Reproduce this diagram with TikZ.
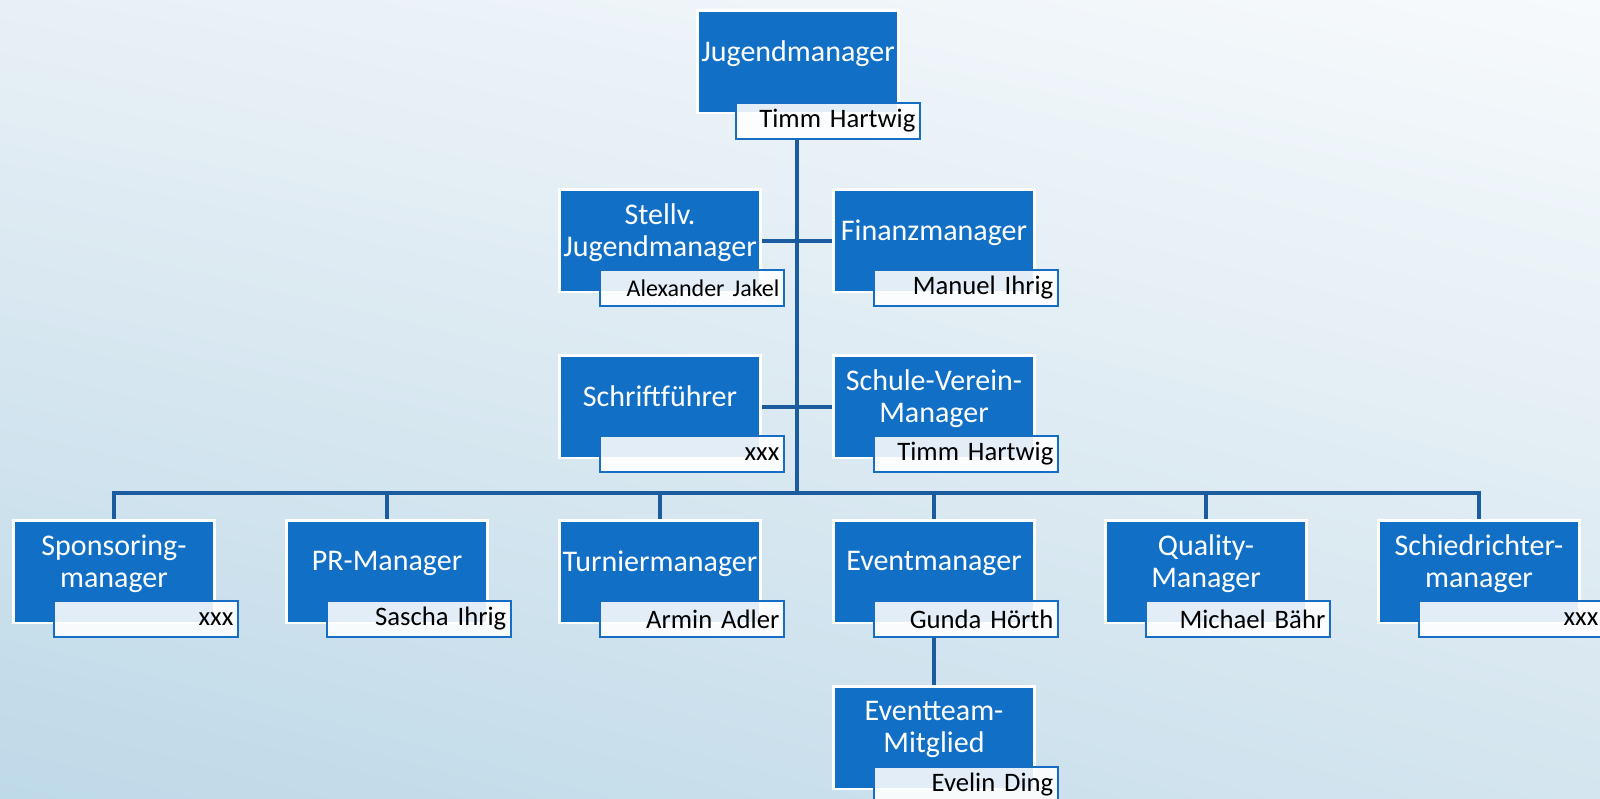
\documentclass[tikz,border=0pt]{standalone}
\usepackage{fontspec}
\setmainfont{Carlito}[WordSpace=0.7]
\usetikzlibrary{shadings}
\definecolor{boxblue}{RGB}{17,112,197}
\definecolor{lineblue}{RGB}{26,92,158}
\definecolor{nameblue}{RGB}{22,110,196}
\definecolor{bgul}{RGB}{232,240,246}
\definecolor{bgur}{RGB}{247,250,252}
\definecolor{bgll}{RGB}{190,217,232}
\definecolor{bglr}{RGB}{212,229,239}
\begin{document}
\begin{tikzpicture}[x=0.75pt, y=-0.75pt,
  rolebox/.style={fill=boxblue, draw=white, line width=2pt, text=white, anchor=north west,
    minimum width=151pt, minimum height=77pt, inner sep=0pt, align=center,
    font=\fontsize{22.5}{24}\selectfont, text depth=16pt},
  namebox/.style={draw=nameblue, line width=1.5pt, fill=white, fill opacity=0.88, text opacity=1,
    text=black, anchor=north west, minimum width=138pt, minimum height=27pt,
    text width=131pt, align=right, inner sep=0pt, font=\fontsize{20}{22}\selectfont},
  link/.style={draw=lineblue, line width=3pt}]
\useasboundingbox (0,0) rectangle (1600,799);
\shade[upper left=bgul, upper right=bgur, lower left=bgll, lower right=bglr] (0,0) rectangle (1600,799);

\node[rolebox] (jug) at (696,9) {Jugendmanager};
\node[namebox] (jug-n) at ([shift={(39,93)}]jug.north west) {Timm Hartwig};

\node[rolebox] (stv) at (558,188) {Stellv.\\Jugendmanager};
\node[namebox, font=\fontsize{18}{20}\selectfont] (stv-n) at ([shift={(41,81)}]stv.north west) {Alexander Jakel};
\node[rolebox] (fin) at (832,188) {Finanzmanager};
\node[namebox] (fin-n) at ([shift={(41,81)}]fin.north west) {Manuel Ihrig};

\node[rolebox] (sch) at (558,354) {Schriftführer};
\node[namebox] (sch-n) at ([shift={(41,81)}]sch.north west) {xxx};
\node[rolebox] (svm) at (832,354) {Schule-Verein-\\Manager};
\node[namebox] (svm-n) at ([shift={(41,81)}]svm.north west) {Timm Hartwig};

\node[rolebox] (spo) at (12,519) {Sponsoring-\\manager};
\node[namebox] (spo-n) at ([shift={(41,81)}]spo.north west) {xxx};
\node[rolebox] (prm) at (285,519) {PR-Manager};
\node[namebox] (prm-n) at ([shift={(41,81)}]prm.north west) {Sascha Ihrig};
\node[rolebox] (tur) at (558,519) {Turniermanager};
\node[namebox] (tur-n) at ([shift={(41,81)}]tur.north west) {Armin Adler};
\node[rolebox] (evm) at (832,519) {Eventmanager};
\node[namebox] (evm-n) at ([shift={(41,81)}]evm.north west) {Gunda Hörth};
\node[rolebox] (qua) at (1104,519) {Quality-\\Manager};
\node[namebox] (qua-n) at ([shift={(41,81)}]qua.north west) {Michael Bähr};
\node[rolebox] (sri) at (1377,519) {Schiedrichter-\\manager};
\node[namebox] (sri-n) at ([shift={(41,81)}]sri.north west) {xxx};

\node[rolebox] (evt) at (832,685) {Eventteam-\\Mitglied};
\node[namebox] (evt-n) at ([shift={(41,81)}]evt.north west) {Evelin Ding};

\coordinate (bus) at (797,493);
\draw[link] (bus |- jug-n.south) -- (bus);
\draw[link] (stv.east) -- (fin.west);
\draw[link] (sch.east) -- (svm.west);
\draw[link] (spo.north) |- (bus) -| (sri.north);
\draw[link] (prm.north) -- (prm.north |- bus);
\draw[link] (tur.north) -- (tur.north |- bus);
\draw[link] (evm.north) -- (evm.north |- bus);
\draw[link] (qua.north) -- (qua.north |- bus);
\draw[link] (evm.north |- evm-n.south) -- (evt.north);
\end{tikzpicture}
\end{document}
